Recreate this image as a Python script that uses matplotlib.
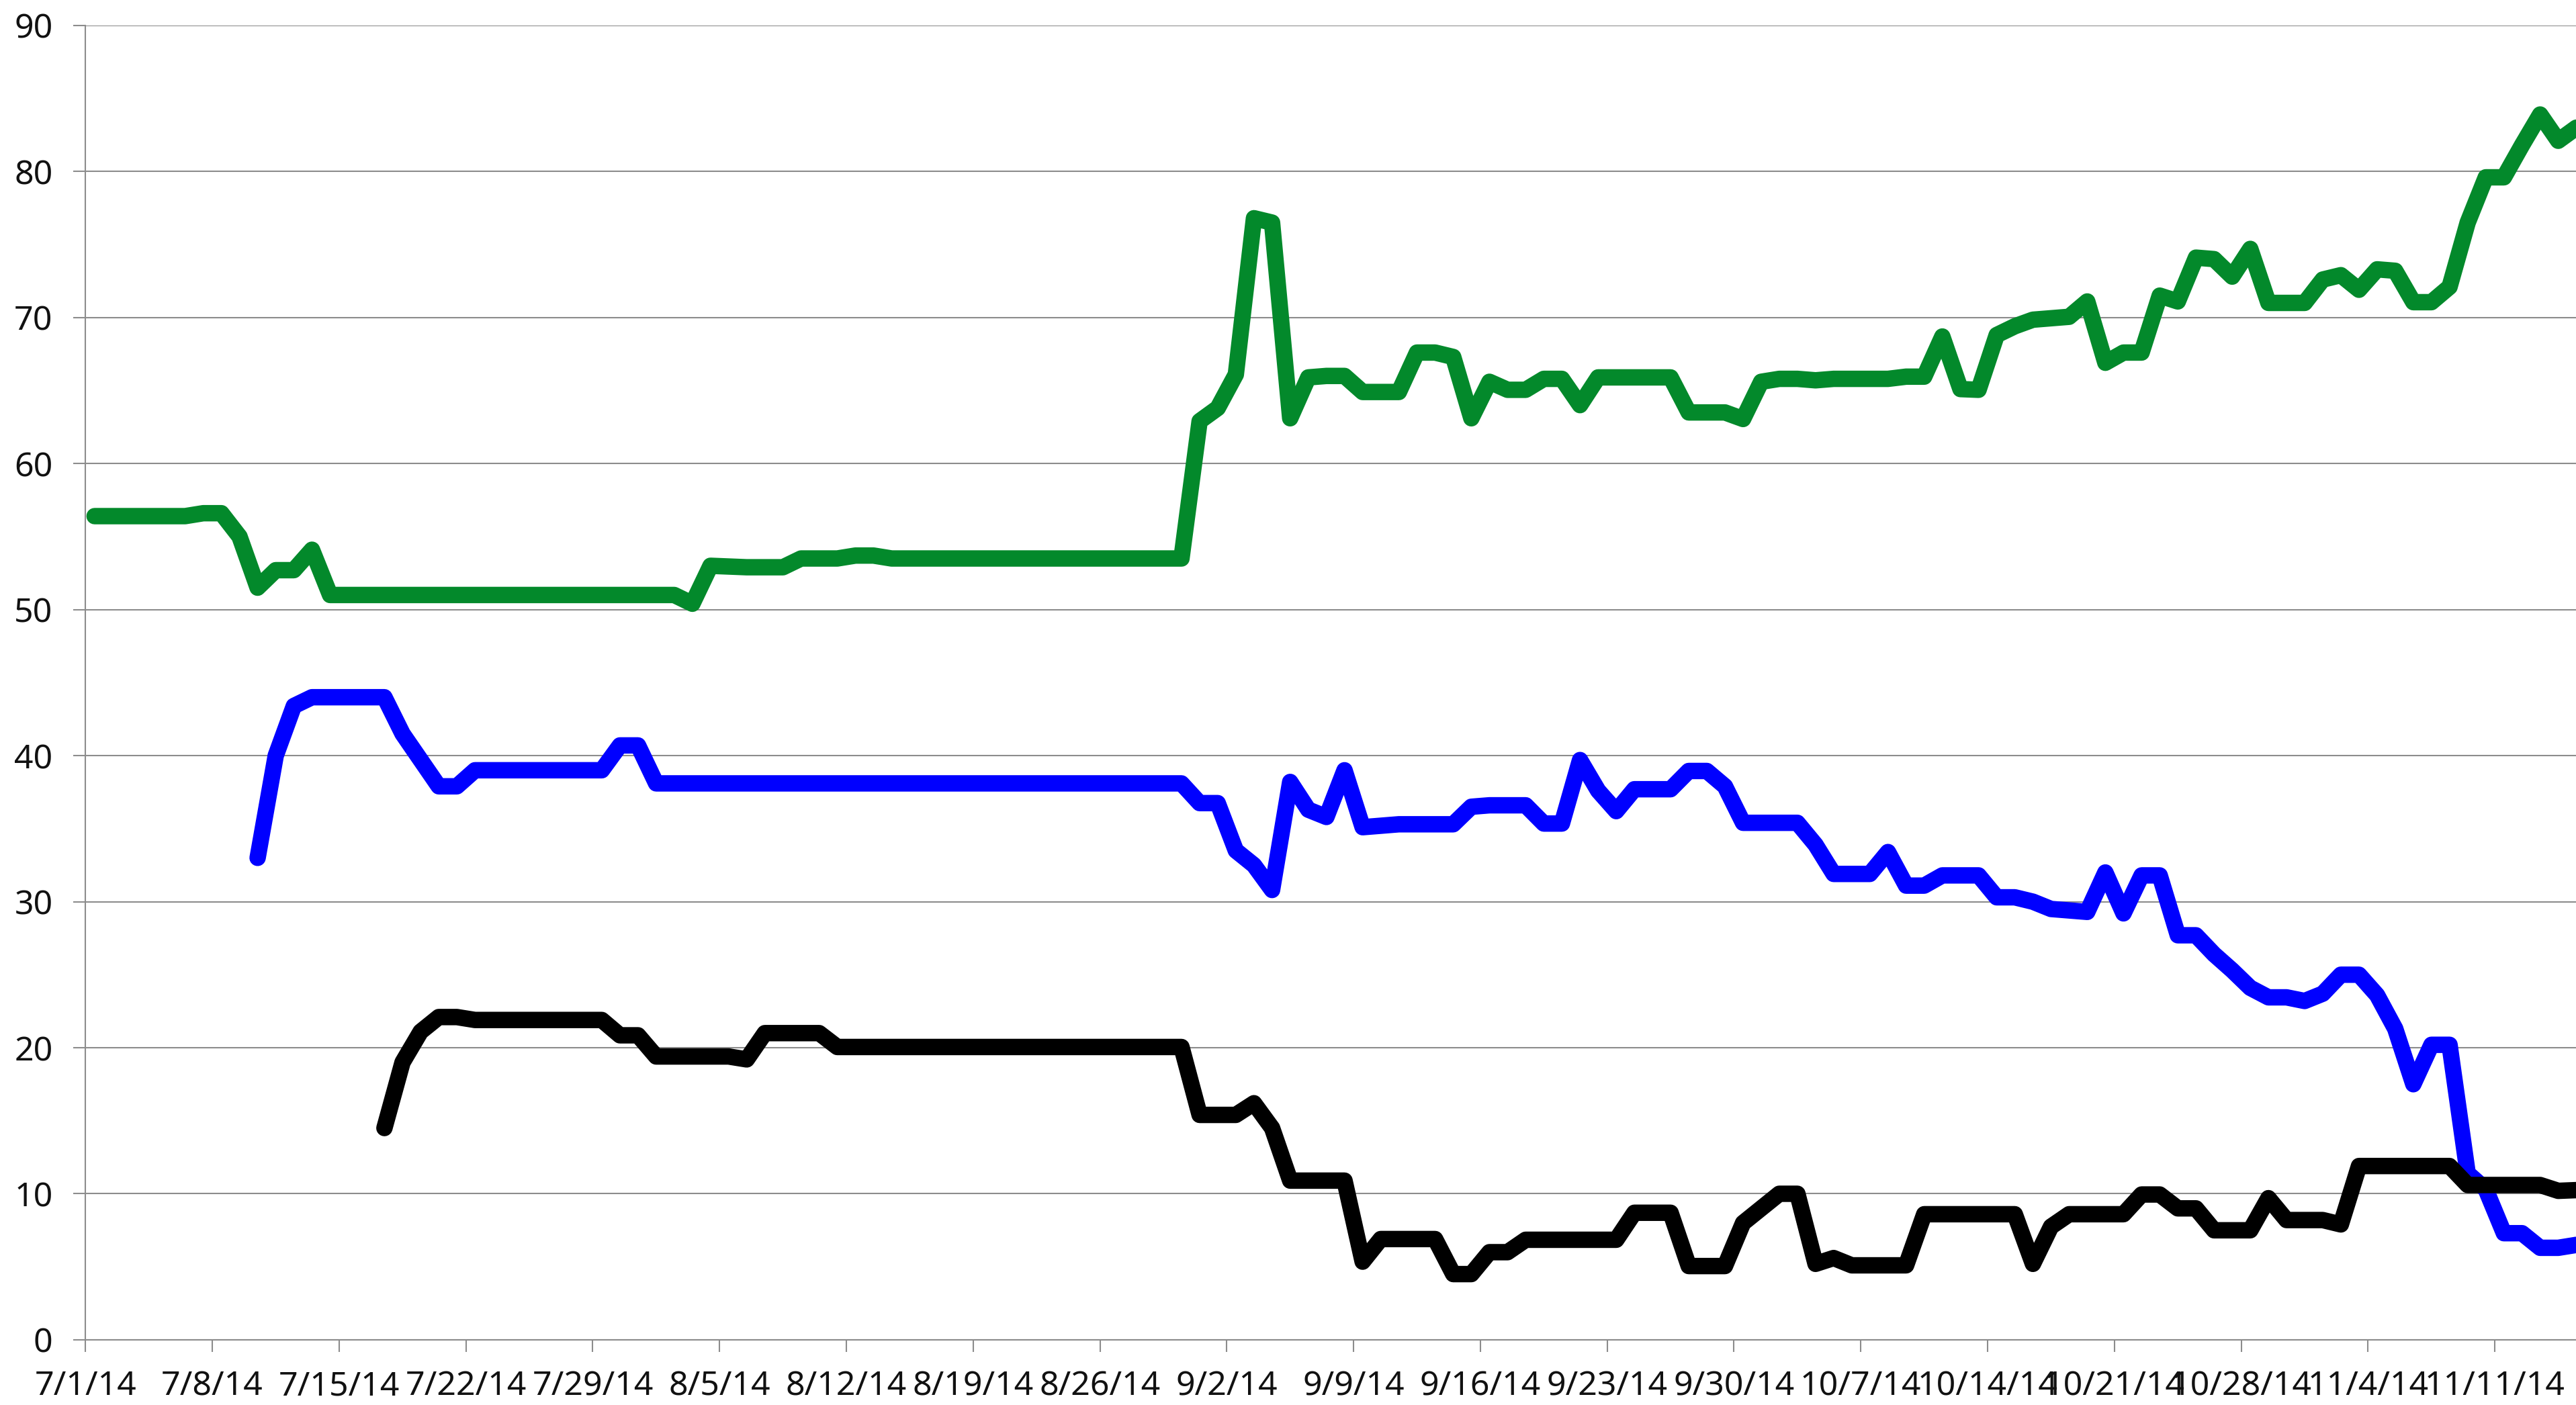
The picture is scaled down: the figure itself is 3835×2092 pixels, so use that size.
import datetime as dt

import matplotlib
matplotlib.use("Agg")
import matplotlib.dates as mdates
import matplotlib.pyplot as plt

plt.rcParams["font.family"] = ["Noto Sans", "DejaVu Sans"]

START = dt.date(2014, 7, 1)

# daily values, one row per week (green starts 7/1, blue 7/10, black 7/17)
green_start = dt.date(2014, 7, 1)
green = [
    56.4, 56.4, 56.4, 56.4, 56.4, 56.4, 56.6,
    56.6, 55.0, 51.5, 52.7, 52.7, 54.1, 51.0,
    51.0, 51.0, 51.0, 51.0, 51.0, 51.0, 51.0,
    51.0, 51.0, 51.0, 51.0, 51.0, 51.0, 51.0,
    51.0, 51.0, 51.0, 51.0, 51.0, 50.4, 53.0,
    52.95, 52.9, 52.9, 52.9, 53.5, 53.5, 53.5,
    53.7, 53.7, 53.5, 53.5, 53.5, 53.5, 53.5,
    53.5, 53.5, 53.5, 53.5, 53.5, 53.5, 53.5,
    53.5, 53.5, 53.5, 53.5, 53.5, 62.9, 63.8,
    66.1, 76.8, 76.5, 63.1, 65.9, 66.0, 66.0,
    64.9, 64.9, 64.9, 67.6, 67.6, 67.3, 63.1,
    65.6, 65.05, 65.05, 65.8, 65.8, 64.0, 65.9,
    65.9, 65.9, 65.9, 65.9, 63.5, 63.5, 63.5,
    63.05, 65.6, 65.8, 65.8, 65.7, 65.8, 65.8,
    65.8, 65.8, 65.95, 65.95, 68.7, 65.1, 65.05,
    68.8, 69.4, 69.85, 69.95, 70.05, 71.1, 66.9,
    67.6, 67.6, 71.5, 71.1, 74.1, 74.0, 72.8,
    74.7, 71.0, 71.0, 71.0, 72.6, 72.9, 71.9,
    73.3, 73.2, 71.05, 71.05, 72.1, 76.5, 79.6,
    79.6, 81.8, 83.9, 82.1, 83.0,
]

blue_start = dt.date(2014, 7, 10)
blue = [
    33.0, 40.0, 43.4, 44.0, 44.0,
    44.0, 44.0, 44.0, 41.5, 39.7, 37.9, 37.9,
    39.0, 39.0, 39.0, 39.0, 39.0, 39.0, 39.0,
    39.0, 40.7, 40.7, 38.1, 38.1, 38.1, 38.1,
    38.1, 38.1, 38.1, 38.1, 38.1, 38.1, 38.1,
    38.1, 38.1, 38.1, 38.1, 38.1, 38.1, 38.1,
    38.1, 38.1, 38.1, 38.1, 38.1, 38.1, 38.1,
    38.1, 38.1, 38.1, 38.1, 38.1, 36.75, 36.75,
    33.5, 32.5, 30.8, 38.2, 36.3, 35.8, 39.0,
    35.1, 35.2, 35.3, 35.3, 35.3, 35.3, 36.5,
    36.6, 36.6, 36.6, 35.35, 35.35, 39.7, 37.6,
    36.2, 37.7, 37.7, 37.7, 38.95, 38.95, 37.9,
    35.4, 35.4, 35.4, 35.4, 33.9, 31.9, 31.9,
    31.9, 33.4, 31.1, 31.1, 31.8, 31.8, 31.8,
    30.3, 30.3, 30.0, 29.5, 29.4, 29.3, 32.0,
    29.2, 31.8, 31.8, 27.7, 27.7, 26.4, 25.3,
    24.1, 23.45, 23.45, 23.2, 23.7, 25.0, 25.0,
    23.6, 21.3, 17.5, 20.2, 20.2, 11.4, 10.3,
    7.3, 7.3, 6.3, 6.3, 6.5,
]

black_start = dt.date(2014, 7, 17)
black = [
    14.5, 19.0, 21.1, 22.1, 22.1,
    21.9, 21.9, 21.9, 21.9, 21.9, 21.9, 21.9,
    21.9, 20.85, 20.85, 19.4, 19.4, 19.4, 19.4,
    19.4, 19.2, 21.0, 21.0, 21.0, 21.0, 20.05,
    20.05, 20.05, 20.05, 20.05, 20.05, 20.05, 20.05,
    20.05, 20.05, 20.05, 20.05, 20.05, 20.05, 20.05,
    20.05, 20.05, 20.05, 20.05, 20.05, 15.4, 15.4,
    15.4, 16.2, 14.5, 10.9, 10.9, 10.9, 10.9,
    5.35, 6.9, 6.9, 6.9, 6.9, 4.5, 4.5,
    6.0, 6.0, 6.85, 6.85, 6.85, 6.85, 6.85,
    6.85, 8.7, 8.7, 8.7, 5.05, 5.05, 5.05,
    8.0, 9.0, 10.0, 10.0, 5.2, 5.6, 5.1,
    5.1, 5.1, 5.1, 8.6, 8.6, 8.6, 8.6,
    8.6, 8.6, 5.2, 7.75, 8.6, 8.6, 8.6,
    8.6, 9.95, 9.95, 9.0, 9.0, 7.5, 7.5,
    7.5, 9.7, 8.2, 8.2, 8.2, 7.9, 11.9,
    11.9, 11.9, 11.9, 11.9, 11.9, 10.6, 10.6,
    10.6, 10.6, 10.6, 10.2, 10.25,
]

tick_dates = [START + dt.timedelta(days=7 * k) for k in range(20)]
tick_labels = [f"{d.month}/{d.day}/{d.year % 100}" for d in tick_dates]
y_ticks = [0, 10, 20, 30, 40, 50, 60, 70, 80, 90]

GRID = "#8c8c8c"


def xs(start, n):
    # Excel date axis "between tick marks": each day sits mid-slot
    base = mdates.date2num(start)
    return [base + i + 0.5 for i in range(n)]


fig = plt.figure(figsize=(38.35, 20.92), dpi=100)
ax = fig.add_axes([0.0332, 0.0464, 0.9668, 0.9355])

line_kw = dict(lw=17.6, solid_capstyle="round", solid_joinstyle="round")
ax.plot(xs(green_start, len(green)), green, color="#03892b", **line_kw)
ax.plot(xs(blue_start, len(blue)), blue, color="#0000ff", **line_kw)
ax.plot(xs(black_start, len(black)), black, color="#000000", **line_kw)

x0 = mdates.date2num(START)
ax.set_xlim(x0, x0 + 137.48)
ax.set_ylim(0, 90)

ax.set_xticks([mdates.date2num(d) for d in tick_dates])
ax.set_xticklabels(tick_labels)
ax.set_yticks(y_ticks)
ax.set_yticklabels([str(v) for v in y_ticks])

ax.grid(axis="y", color=GRID, lw=1.5)
ax.set_axisbelow(True)
for side in ("top", "right"):
    ax.spines[side].set_visible(False)
for side in ("left", "bottom"):
    ax.spines[side].set_color(GRID)
    ax.spines[side].set_linewidth(1.5)

ax.tick_params(axis="both", direction="out", length=13, width=1.5,
               color=GRID, labelsize=36, labelcolor="#111111")
ax.tick_params(axis="y", pad=22)
ax.tick_params(axis="x", pad=19)

fig.savefig("out.png", dpi=100)
